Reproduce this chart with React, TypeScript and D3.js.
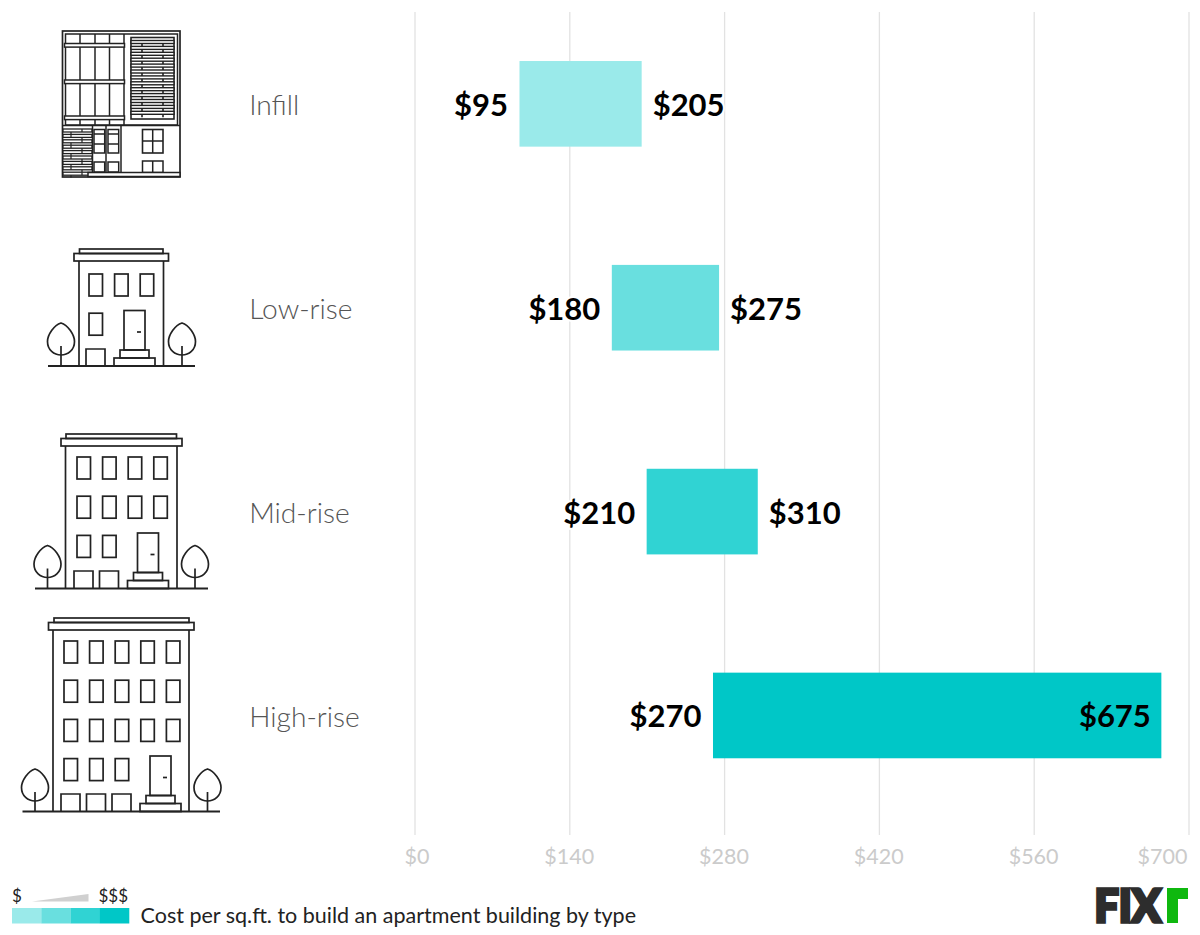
import React from "react";
import * as d3 from "d3";

const categories = ["Infill", "Low-rise", "Mid-rise", "High-rise"];
const lowValues = [95, 180, 210, 270];
const highValues = [205, 275, 310, 675];
const barStarts = [94.5, 178, 209.5, 269.5];
const barColors = ["#9aeaea", "#69dfdf", "#30d3d3", "#00c7c7"];
const tickValues = [0, 140, 280, 420, 560, 700];

const INK = "#222";
const FONT = "Lato, sans-serif";

const x = d3.scaleLinear().domain([0, 700]).range([415, 1189]);
const y = d3.scaleBand().domain(categories).range([1.9, 817.4]).paddingInner(0.58).paddingOuter(0.29);

function Tree({ cx, top, ground }: { cx: number; top: number; ground: number }) {
  const b = top + 32;
  const d = `M${cx} ${top} C${cx + 7} ${top + 2} ${cx + 13.5} ${top + 12} ${cx + 13.5} ${top + 18.5} C${cx + 13.5} ${top + 27} ${cx + 7} ${b} ${cx} ${b} C${cx - 7} ${b} ${cx - 13.5} ${top + 27} ${cx - 13.5} ${top + 18.5} C${cx - 13.5} ${top + 12} ${cx - 7} ${top + 2} ${cx} ${top}Z`;
  return (
    <g>
      <path d={d} />
      <line x1={cx} x2={cx} y1={top + 23} y2={ground} />
    </g>
  );
}

type B = {
  wallL: number; wallR: number; ground: number; gL: number; gR: number; roofTop: number;
  roofL: number; roofR: number; corL: number; corR: number; winX: number; winY: number;
  cols: number[]; doorX: number; doorY: number; garages: number[]; garageY: number;
  treeL: number; treeR: number; treeTop: number;
};

function Building(b: B) {
  return (
    <g fill="none" stroke={INK} strokeWidth={1.7}>
      <rect x={b.roofL} y={b.roofTop} width={b.roofR - b.roofL} height={4.5} />
      <rect x={b.corL} y={b.roofTop + 4.5} width={b.corR - b.corL} height={7.5} />
      <line x1={b.wallL} x2={b.wallL} y1={b.roofTop + 12} y2={b.ground} />
      <line x1={b.wallR} x2={b.wallR} y1={b.roofTop + 12} y2={b.ground} />
      <line x1={b.gL} x2={b.gR} y1={b.ground} y2={b.ground} strokeWidth={2} />
      {b.cols.map((n, r) =>
        d3.range(n).map((c) => (
          <rect key={`${r}-${c}`} x={b.winX + c * 25.6} y={b.winY + r * 39.2} width={13.5} height={22} />
        ))
      )}
      <rect x={b.doorX} y={b.doorY} width={21} height={39.5} />
      <line x1={b.doorX + 13} x2={b.doorX + 17} y1={b.doorY + 21.5} y2={b.doorY + 21.5} />
      <rect x={b.doorX - 4} y={b.doorY + 39.5} width={29} height={8} />
      <rect x={b.doorX - 10} y={b.doorY + 47.5} width={41} height={b.ground - b.doorY - 47.5} />
      {b.garages.map((g) => (
        <path key={g} d={`M${g} ${b.ground}V${b.garageY}H${g + 19}V${b.ground}`} />
      ))}
      <Tree cx={b.treeL} top={b.treeTop} ground={b.ground} />
      <Tree cx={b.treeR} top={b.treeTop} ground={b.ground} />
    </g>
  );
}

function InfillIcon() {
  const slats = d3.range(40.5, 117, 5.9);
  const bricks = d3.range(129, 177, 5.4);
  return (
    <g fill="none" stroke={INK} strokeWidth={1.5}>
      <rect x={62.5} y={31} width={117.5} height={146} strokeWidth={1.7} />
      <rect x={65.5} y={34} width={112} height={91} />
      {[80, 95, 109.5, 124].map((v) => (
        <line key={v} x1={v} x2={v} y1={34} y2={125} strokeWidth={1.5} />
      ))}
      {[43.5, 80, 116].map((v) => (
        <rect key={v} x={64.5} y={v} width={60} height={3.6} fill="#fff" />
      ))}
      <rect x={131} y={37.5} width={43} height={81.5} strokeWidth={1.6} />
      {slats.map((v) => (
        <rect key={v} x={131} y={v} width={43} height={3} strokeWidth={1.4} fill="#fff" />
      ))}
      {[142, 163].map((v) =>
        slats.map((s) => <line key={`${v}-${s}`} x1={v} x2={v} y1={s + 3} y2={s + 5.9} strokeWidth={1.6} />)
      )}
      <line x1={62.5} x2={180} y1={125.5} y2={125.5} strokeWidth={1.7} />
      {bricks.map((v, i) => (
        <g key={v}>
          <rect x={63} y={v} width={29} height={3} fill="#fff" strokeWidth={1.3} />
          <line x1={i % 2 ? 71 : 82} x2={i % 2 ? 71 : 82} y1={v} y2={v + 3} strokeWidth={1.2} />
          <line x1={i % 2 ? 82 : 71} x2={i % 2 ? 82 : 71} y1={v + 3} y2={v + 5.4} strokeWidth={1.2} />
        </g>
      ))}
      {[92.5, 106, 121].map((v) => (
        <line key={v} x1={v} x2={v} y1={125} y2={172} strokeWidth={1.5} />
      ))}
      {[94, 108].map((v) => (
        <g key={v}>
          <rect x={v} y={129.5} width={10.7} height={23.5} />
          <line x1={v} x2={v + 10.7} y1={134} y2={134} />
          <line x1={v} x2={v + 10.7} y1={144} y2={144} />
          <rect x={v} y={162} width={10.7} height={10} />
        </g>
      ))}
      <rect x={142.5} y={129.5} width={20.5} height={23.5} strokeWidth={1.6} />
      <line x1={152.7} x2={152.7} y1={129.5} y2={153} />
      <line x1={142.5} x2={163} y1={141} y2={141} />
      <rect x={142.5} y={161} width={20.5} height={11.5} />
      <line x1={152.7} x2={152.7} y1={161} y2={172} />
      <rect x={88} y={172.5} width={92} height={4} fill="#fff" />
    </g>
  );
}

const buildings: (B | null)[] = [
  null,
  { wallL: 79, wallR: 163.5, ground: 366, gL: 48, gR: 195, roofTop: 249, roofL: 79.5, roofR: 163, corL: 74, corR: 168.5, winX: 89, winY: 274, cols: [3, 1], doorX: 124, doorY: 310.5, garages: [86], garageY: 349, treeL: 61, treeR: 182, treeTop: 323 },
  { wallL: 65.5, wallR: 177, ground: 588.5, gL: 35, gR: 208, roofTop: 434, roofL: 66, roofR: 176.5, corL: 61, corR: 182, winX: 77, winY: 457, cols: [4, 4, 2], doorX: 137.5, doorY: 533, garages: [74, 99.5], garageY: 571, treeL: 47.5, treeR: 195, treeTop: 545.5 },
  { wallL: 53, wallR: 189, ground: 811.5, gL: 22.5, gR: 220, roofTop: 618, roofL: 54, roofR: 189, corL: 48.5, corR: 194, winX: 64, winY: 641, cols: [5, 5, 5, 3], doorX: 150, doorY: 756, garages: [61, 86.5, 112], garageY: 794, treeL: 35, treeR: 207.5, treeTop: 769 },
];

function tickX(t: number) {
  if (t === 0) return x(t) + 2;
  if (t === 700) return x(t) - 26.5;
  return x(t) - 0.6;
}

export default function App() {
  return (
    <svg width={1200} height={935} style={{ position: "absolute", left: 0, top: 0, background: "#fff", fontFamily: FONT }}>
      {tickValues.map((t) => (
        <g key={t}>
          <line x1={x(t)} x2={x(t)} y1={12} y2={835} stroke="#e2e2e2" strokeWidth={1.3} />
          <text x={tickX(t)} y={864} textAnchor="middle" fontSize={21.5} fontWeight={400} fill="#cbcbcb">
            ${t}
          </text>
        </g>
      ))}

      <InfillIcon />
      {buildings.map((b, i) => (b ? <Building key={i} {...b} /> : null))}

      {categories.map((c, i) => {
        const cy = (y(c) as number) + y.bandwidth() / 2;
        const inside = x(highValues[i]) - x(barStarts[i]) > 300;
        return (
          <g key={c}>
            <text x={249.2} y={cy + 11.5} fontSize={28.2} fontWeight={300} fill="#555">{c}</text>
            <rect x={x(barStarts[i])} y={y(c)} width={x(highValues[i]) - x(barStarts[i])} height={y.bandwidth()} fill={barColors[i]} />
            <text x={x(barStarts[i]) - 11.5} y={cy + 12} textAnchor="end" fontSize={31} fontWeight={700} fill="#000" stroke="#fff" strokeWidth={4} paintOrder="stroke">${lowValues[i]}</text>
            <text
              x={x(highValues[i]) + (inside ? -10.5 : 11)}
              y={cy + 12}
              textAnchor={inside ? "end" : "start"}
              fontSize={31}
              fontWeight={700}
              fill="#000"
              stroke={inside ? "none" : "#fff"}
              strokeWidth={4}
              paintOrder="stroke"
            >
              ${highValues[i]}
            </text>
          </g>
        );
      })}

      <text x={12} y={902} fontSize={17} fontWeight={400} fill="#222">$</text>
      <text x={128} y={902} textAnchor="end" fontSize={17} fontWeight={400} fill="#222">$$$</text>
      <path d="M32 901.5L88.5 894V901.5Z" fill="#d0d0d0" />
      {barColors.map((col, i) => (
        <rect key={col} x={12 + i * 29.3} y={908} width={29.4} height={15.5} fill={col} />
      ))}
      <text x={140.6} y={923} fontSize={21.5} fontWeight={400} fill="#222">Cost per sq.ft. to build an apartment building by type</text>

      <text x={1094.5} y={921.5} fontSize={45} fontWeight={900} fill="#2d2d2d" stroke="#2d2d2d" strokeWidth={3.4} textLength={66.5} lengthAdjust="spacingAndGlyphs">FIX</text>
      <path d="M1167 923V888H1188V899H1178V923Z" fill="#0fb80f" />
    </svg>
  );
}
